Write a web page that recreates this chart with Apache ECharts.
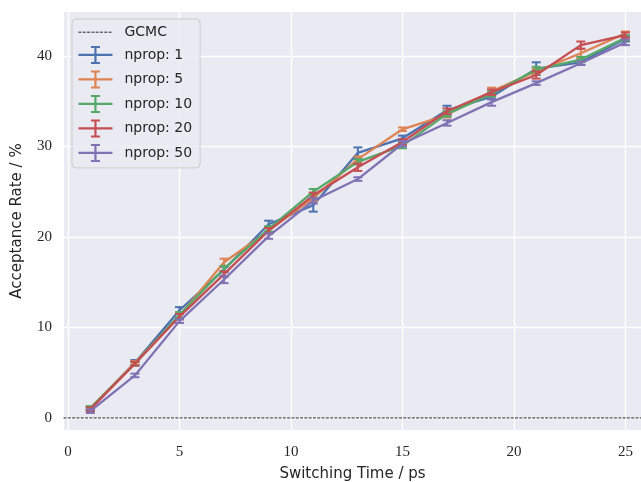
<!DOCTYPE html>
<html>
<head>
<meta charset="utf-8">
<script src="https://cdn.jsdelivr.net/npm/echarts@6/dist/echarts.min.js"></script>
<style>
  html, body { margin: 0; padding: 0; background: #fff; }
  #chart { width: 641px; height: 482px; }
</style>
</head>
<body>
<div id="chart"></div>
<script>
const switchTimes = [1, 3, 5, 7, 9, 11, 13, 15, 17, 19, 21, 23, 25];
const xTicks = [0, 5, 10, 15, 20, 25];
const yTicks = [0, 10, 20, 30, 40];

const nprop1 = [1.0, 6.1, 11.9, 16.4, 21.4, 23.5, 29.3, 30.9, 34.0, 35.5, 38.6, 39.3, 41.9];
const nprop1Err = [0.2, 0.3, 0.35, 0.3, 0.4, 0.7, 0.6, 0.3, 0.5, 0.3, 0.7, 0.3, 0.3];
const nprop5 = [1.1, 6.1, 11.3, 17.2, 20.7, 24.3, 28.6, 31.9, 33.5, 36.1, 38.3, 40.3, 42.5];
const nprop5Err = [0.2, 0.2, 0.3, 0.4, 0.3, 0.3, 0.3, 0.2, 0.3, 0.4, 0.3, 0.5, 0.2];
const nprop10 = [1.1, 6.0, 11.4, 16.5, 20.9, 25.0, 28.3, 30.1, 33.6, 35.8, 38.5, 39.6, 42.0];
const nprop10Err = [0.2, 0.2, 0.3, 0.3, 0.3, 0.3, 0.3, 0.3, 0.3, 0.3, 0.3, 0.3, 0.3];
const nprop20 = [0.95, 6.0, 11.2, 15.9, 20.7, 24.6, 27.7, 30.5, 33.9, 36.0, 37.9, 41.2, 42.3];
const nprop20Err = [0.2, 0.2, 0.3, 0.3, 0.3, 0.3, 0.4, 0.3, 0.3, 0.3, 0.4, 0.4, 0.3];
const nprop50 = [0.75, 4.7, 10.7, 15.3, 20.1, 24.0, 26.4, 30.3, 32.6, 34.9, 37.0, 39.2, 41.5];
const nprop50Err = [0.2, 0.2, 0.2, 0.4, 0.3, 0.3, 0.2, 0.3, 0.3, 0.4, 0.2, 0.2, 0.3];
const gcmcRate = 0;

const runs = [
    { name: 'nprop: 1', values: nprop1, err: nprop1Err, color: '#4C72B0' },
    { name: 'nprop: 5', values: nprop5, err: nprop5Err, color: '#DD8452' },
    { name: 'nprop: 10', values: nprop10, err: nprop10Err, color: '#55A868' },
    { name: 'nprop: 20', values: nprop20, err: nprop20Err, color: '#C44E52' },
    { name: 'nprop: 50', values: nprop50, err: nprop50Err, color: '#8172B3' }
];

// errorbar legend glyph: horizontal line, vertical bar and two caps
const errIcon = 'path://M0 7.9H34V10.1H0Z M15.9 1H18.1V17H15.9Z M12.5 0H21.5V2H12.5Z M12.5 16H21.5V18H12.5Z';

const renderErr = (params, api) => {
    const x = api.value(0);
    const top = api.coord([x, api.value(2)]);
    const bot = api.coord([x, api.value(1)]);
    const style = { stroke: api.visual('color'), lineWidth: 2 };
    return {
        type: 'group',
        children: [
            { type: 'line', shape: { x1: top[0], y1: top[1], x2: bot[0], y2: bot[1] }, style },
            { type: 'line', shape: { x1: top[0] - 4.5, y1: top[1], x2: top[0] + 4.5, y2: top[1] }, style },
            { type: 'line', shape: { x1: bot[0] - 4.5, y1: bot[1], x2: bot[0] + 4.5, y2: bot[1] }, style }
        ]
    };
};

let series = [{
    name: 'GCMC',
    type: 'line',
    data: [[-0.2, gcmcRate], [26, gcmcRate]],
    symbol: 'none',
    lineStyle: { color: '#111', width: 0.9, type: [3, 1.3] },
    itemStyle: { color: '#111' },
    z: 1
}];

runs.forEach((r, i) => {
    series.push({
        name: r.name,
        type: 'line',
        data: switchTimes.map((t, j) => [t, r.values[j]]),
        symbol: 'none',
        lineStyle: { color: r.color, width: 2.3 },
        itemStyle: { color: r.color },
        z: 2 + i
    });
    series.push({
        name: r.name,
        type: 'custom',
        renderItem: renderErr,
        data: switchTimes.map((t, j) => [t, r.values[j] - r.err[j], r.values[j] + r.err[j]]),
        itemStyle: { color: r.color },
        encode: { x: 0, y: [1, 2] },
        z: 2 + i
    });
});

const chart = echarts.init(document.getElementById('chart'));
chart.setOption({
    animation: false,
    backgroundColor: '#ffffff',
    grid: {
        left: 64, top: 12, width: 577, height: 418,
        outerBoundsMode: 'none',
        show: true, backgroundColor: '#EAEAF2', borderWidth: 0
    },
    xAxis: {
        type: 'value',
        min: -0.18,
        max: 25.7,
        name: 'Switching Time / ps',
        nameLocation: 'middle',
        nameGap: 37,
        nameTextStyle: { fontFamily: 'DejaVu Sans', fontSize: 15, color: '#262626' },
        axisLine: { show: false },
        axisTick: { show: false, customValues: xTicks },
        axisLabel: {
            customValues: xTicks, margin: 15,
            fontFamily: 'Liberation Serif', fontSize: 15, color: '#262626'
        },
        splitLine: { show: true, lineStyle: { color: '#ffffff', width: 1.4 } }
    },
    yAxis: {
        type: 'value',
        min: -1.33,
        max: 44.86,
        name: 'Acceptance Rate / %',
        nameLocation: 'middle',
        nameGap: 39,
        nameTextStyle: { fontFamily: 'DejaVu Sans', fontSize: 15, color: '#262626' },
        axisLine: { show: false },
        axisTick: { show: false, customValues: yTicks },
        axisLabel: {
            customValues: yTicks, margin: 12,
            fontFamily: 'Liberation Serif', fontSize: 15, color: '#262626'
        },
        splitLine: { show: true, lineStyle: { color: '#ffffff', width: 1.4 } }
    },
    legend: {
        orient: 'vertical',
        left: 72,
        top: 19,
        padding: [6, 8, 6, 6],
        itemGap: 6.5,
        itemWidth: 34,
        itemHeight: 18,
        backgroundColor: 'rgba(234,234,242,0.8)',
        borderColor: '#cccccc',
        borderWidth: 1,
        borderRadius: 4,
        textStyle: { fontFamily: 'DejaVu Sans', fontSize: 14, color: '#262626', padding: [0, 0, 0, 7] },
        data: [{ name: 'GCMC', itemStyle: { opacity: 0 }, lineStyle: { width: 0.9, type: [3, 1.3] } }]
            .concat(runs.map(r => ({ name: r.name, icon: errIcon })))
    },
    series
});
</script>
</body>
</html>
